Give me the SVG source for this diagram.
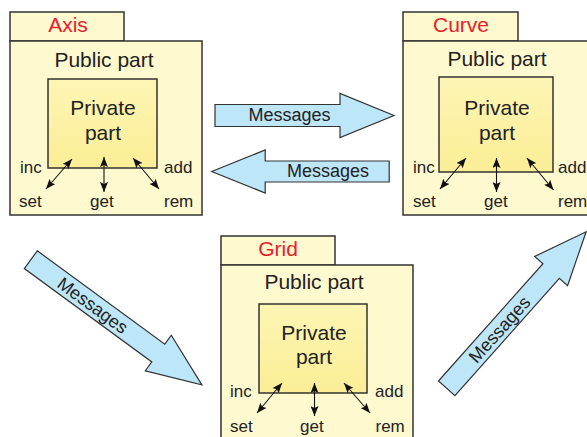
<svg xmlns="http://www.w3.org/2000/svg" width="587" height="437" viewBox="0 0 587 437">
<defs>
<linearGradient id="priv" x1="0" y1="0" x2="0" y2="1">
<stop offset="0" stop-color="#fdf5b4"/>
<stop offset="1" stop-color="#fbee96"/>
</linearGradient>
<marker id="ah" viewBox="0 0 10 8" refX="10" refY="4" markerWidth="10" markerHeight="8" markerUnits="userSpaceOnUse" orient="auto-start-reverse">
<path d="M0,0 L10,4 L0,8 L2,4 Z" fill="#111"/>
</marker>
</defs>
<style>
.outer{fill:#fef9cf;stroke:#333;stroke-width:1.5}
.inner{fill:url(#priv);stroke:#333;stroke-width:1.5}
.big{font-family:"Liberation Sans",Arial,sans-serif;font-size:21px;fill:#222}
.title{font-family:"Liberation Sans",Arial,sans-serif;font-size:21px;fill:#e8202a;text-anchor:middle}
.mid{text-anchor:middle}
.sm{font-family:"Liberation Sans",Arial,sans-serif;font-size:17px;fill:#222}
.op{stroke:#111;stroke-width:1.1;fill:none;marker-start:url(#ah);marker-end:url(#ah)}
.msg{fill:#bde6f8;stroke:#333;stroke-width:1.2;stroke-linejoin:miter}
.mt{font-family:"Liberation Sans",Arial,sans-serif;font-size:18px;fill:#222;text-anchor:middle}
</style>

<g id="axis">
<rect class="outer" x="10" y="12" width="114" height="29"/>
<rect class="outer" x="10" y="41" width="192" height="174"/>
<rect class="inner" x="48" y="79" width="109" height="89"/>
<text class="title" x="68" y="32">Axis</text>
<text class="big mid" x="104" y="66.5">Public part</text>
<text class="big mid" x="103" y="115">Private</text>
<text class="big mid" x="103" y="139.5">part</text>
<text class="sm" x="20" y="173">inc</text>
<text class="sm" x="164" y="173">add</text>
<text class="sm" x="19" y="207">set</text>
<text class="sm" x="90" y="207">get</text>
<text class="sm" x="164" y="207">rem</text>
<line class="op" x1="72" y1="159" x2="46" y2="189"/>
<line class="op" x1="104" y1="157" x2="104" y2="192"/>
<line class="op" x1="133" y1="158" x2="159" y2="189"/>
</g>

<g id="curve">
<rect class="outer" x="403" y="12" width="115" height="29"/>
<rect class="outer" x="403" y="41" width="192" height="174"/>
<rect class="inner" x="439" y="77" width="114" height="95"/>
<text class="title" x="461" y="32">Curve</text>
<text class="big mid" x="497" y="65.5">Public part</text>
<text class="big mid" x="497" y="115">Private</text>
<text class="big mid" x="497" y="140">part</text>
<text class="sm" x="413" y="173">inc</text>
<text class="sm" x="558" y="173">add</text>
<text class="sm" x="413" y="207">set</text>
<text class="sm" x="484" y="207">get</text>
<text class="sm" x="558" y="207">rem</text>
<line class="op" x1="466" y1="158" x2="440" y2="189"/>
<line class="op" x1="496.5" y1="158" x2="496.5" y2="192"/>
<line class="op" x1="527" y1="158" x2="553.5" y2="190"/>
</g>

<g id="grid">
<rect class="outer" x="221" y="236" width="114" height="29"/>
<rect class="outer" x="221" y="265" width="192" height="180"/>
<rect class="inner" x="259" y="304" width="108" height="89"/>
<text class="title" x="278" y="256">Grid</text>
<text class="big mid" x="314" y="289">Public part</text>
<text class="big mid" x="314" y="339.5">Private</text>
<text class="big mid" x="314" y="364">part</text>
<text class="sm" x="230" y="397">inc</text>
<text class="sm" x="375" y="397">add</text>
<text class="sm" x="230" y="432">set</text>
<text class="sm" x="300" y="432">get</text>
<text class="sm" x="375.5" y="432">rem</text>
<line class="op" x1="282" y1="383" x2="257" y2="413"/>
<line class="op" x1="314.5" y1="383" x2="314.5" y2="416"/>
<line class="op" x1="344" y1="383" x2="370" y2="413"/>
</g>

<g id="connectors">
<g transform="translate(215,115.5)">
<polygon class="msg" points="0,-11 125,-11 125,-22 179,0 125,22 125,11 0,11"/>
<text class="mt" x="74.5" y="5.5">Messages</text>
</g>
<g transform="translate(211.7,171.5)">
<polygon class="msg" points="0,0 53.5,-21.5 53.5,-10.5 177.5,-10.5 177.5,10.5 53.5,10.5 53.5,21.5"/>
<text class="mt" x="116.3" y="5.5">Messages</text>
</g>
<g transform="translate(30.8,259.7) rotate(36.2)">
<polygon class="msg" points="0,-11 158,-11 158,-22 212,0 158,22 158,11 0,11"/>
<text class="mt" x="77" y="6.5">Messages</text>
</g>
<g transform="translate(446.7,388.3) rotate(-48.3)">
<polygon class="msg" points="0,-11 157,-11 157,-22 209.6,0 157,22 157,11 0,11"/>
<text class="mt" x="79" y="6.5">Messages</text>
</g>
</g>
</svg>
